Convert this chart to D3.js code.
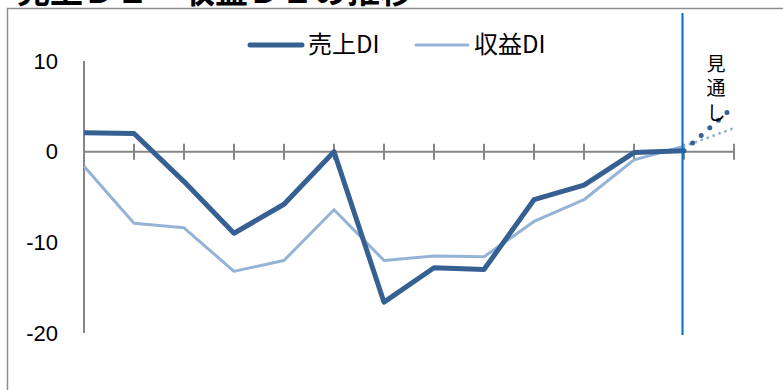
<!DOCTYPE html>
<html>
<head>
<meta charset="utf-8">
<script src="https://cdn.jsdelivr.net/npm/d3@7"></script>
<style>
  body { margin: 0; background: #fff; }
  svg { display: block; }
  .tick-label { font-family: "Liberation Sans", "Noto Sans", sans-serif; font-size: 22px; fill: #000; }
  .jp { font-family: "Noto Sans CJK JP", sans-serif; fill: #000; }
</style>
</head>
<body>
<div id="chart"></div>
<script>
// periods (no labels are shown on the category axis)
const periods = ['1', '2', '3', '4', '5', '6', '7', '8', '9', '10', '11', '12', '13', '14'];
const salesDI = [2.1, 2.0, -3.3, -9.0, -5.8, 0.0, -16.6, -12.8, -13.0, -5.3, -3.7, -0.1, 0.1];
const profitDI = [-1.6, -7.9, -8.4, -13.2, -12.0, -6.4, -12.0, -11.5, -11.6, -7.7, -5.3, -0.9, 0.6];
// outlook segment: last actual period -> next period
const outlookPeriods = ['13', '14'];
const salesOutlook = [0.1, 5.0];
const profitOutlook = [0.6, 2.6];
const yTicks = [10, 0, -10, -20];
const seriesNames = ['売上DI', '収益DI'];

const COLORS = { sales: '#376092', profit: '#95b3d7', axis: '#868686', marker: '#0070c0', frame: '#8e8e8e' };

const width = 783, height = 390;

const svg = d3.select('#chart')
  .append('svg')
  .attr('width', width)
  .attr('height', height);

svg.append('rect').attr('width', width).attr('height', height).attr('fill', '#fff');

// chart frame (only top and left edges fall inside the picture)
svg.append('path')
  .attr('d', `M7.5,${height} V8.5 H${width}`)
  .attr('fill', 'none')
  .attr('stroke', COLORS.frame)
  .attr('stroke-width', 1.5);

// title, mostly clipped at the top
svg.append('text')
  .attr('class', 'jp')
  .attr('x', 17)
  .attr('y', 3)
  .attr('font-size', 33)
  .attr('font-weight', 'bold')
  .text('売上ＤＩ・収益ＤＩの推移');

const x = d3.scalePoint().domain(periods).range([84, 734]).padding(0);
const y = d3.scaleLinear().domain([-20, 10]).range([333, 61]);

// y axis: line + labels, no tick marks
svg.append('line')
  .attr('x1', 84).attr('x2', 84)
  .attr('y1', y(10)).attr('y2', y(-20))
  .attr('stroke', COLORS.axis).attr('stroke-width', 2);

svg.selectAll('.tick-label')
  .data(yTicks)
  .join('text')
  .attr('class', 'tick-label')
  .attr('x', 58)
  .attr('y', d => y(d))
  .attr('dy', '0.35em')
  .attr('text-anchor', 'end')
  .text(d => d);

// x axis at zero with cross ticks
const xAxis = svg.append('g').attr('transform', `translate(0,${y(0)})`);
xAxis.append('line')
  .attr('x1', x(periods[0])).attr('x2', x(periods[periods.length - 1]))
  .attr('stroke', COLORS.axis).attr('stroke-width', 2);
xAxis.selectAll('line.tk')
  .data(periods)
  .join('line')
  .attr('class', 'tk')
  .attr('x1', d => x(d)).attr('x2', d => x(d))
  .attr('y1', -8).attr('y2', 8)
  .attr('stroke', COLORS.axis).attr('stroke-width', 2);

const line = d3.line()
  .x(d => x(d.p))
  .y(d => y(d.v));

const toPts = (vals, keys) => vals.map((v, i) => ({ p: keys[i], v }));

// profit DI (thin light)
svg.append('path')
  .datum(toPts(profitDI, periods))
  .attr('d', line)
  .attr('fill', 'none')
  .attr('stroke', COLORS.profit)
  .attr('stroke-width', 3)
  .attr('stroke-linejoin', 'round');

// sales DI (thick dark)
svg.append('path')
  .datum(toPts(salesDI, periods))
  .attr('d', line)
  .attr('fill', 'none')
  .attr('stroke', COLORS.sales)
  .attr('stroke-width', 5)
  .attr('stroke-linejoin', 'round');

// outlook, dotted
svg.append('path')
  .datum(toPts(profitOutlook, outlookPeriods))
  .attr('d', line)
  .attr('fill', 'none')
  .attr('stroke', COLORS.profit)
  .attr('stroke-width', 3)
  .attr('stroke-linecap', 'round')
  .attr('stroke-dasharray', '0 6.3');

svg.append('path')
  .datum(toPts(salesOutlook, outlookPeriods))
  .attr('d', line)
  .attr('fill', 'none')
  .attr('stroke', COLORS.sales)
  .attr('stroke-width', 5)
  .attr('stroke-linecap', 'round')
  .attr('stroke-dasharray', '0 11.5');

// divider between actuals and outlook
svg.append('line')
  .attr('x1', 682.5).attr('x2', 682.5)
  .attr('y1', 13).attr('y2', 335)
  .attr('stroke', COLORS.marker).attr('stroke-width', 2);

// 見通し label, written vertically
svg.append('g')
  .selectAll('text')
  .data(['見', '通', 'し'])
  .join('text')
  .attr('class', 'jp')
  .attr('x', 716)
  .attr('y', (d, i) => 64 + i * 24.5)
  .attr('dy', '0.35em')
  .attr('text-anchor', 'middle')
  .attr('font-size', 19)
  .text(d => d);

// legend
const legend = svg.append('g');
const legendItems = [
  { name: seriesNames[0], color: COLORS.sales, w: 5, x0: 250 },
  { name: seriesNames[1], color: COLORS.profit, w: 3, x0: 416 }
];
legendItems.forEach(it => {
  legend.append('line')
    .attr('x1', it.x0).attr('x2', it.x0 + 52)
    .attr('y1', 45).attr('y2', 45)
    .attr('stroke', it.color)
    .attr('stroke-width', it.w)
    .attr('stroke-linecap', 'round');
  legend.append('text')
    .attr('class', 'jp')
    .attr('x', it.x0 + 58)
    .attr('y', 45)
    .attr('dy', '0.35em')
    .attr('font-size', 24)
    .text(it.name);
});
</script>
</body>
</html>
